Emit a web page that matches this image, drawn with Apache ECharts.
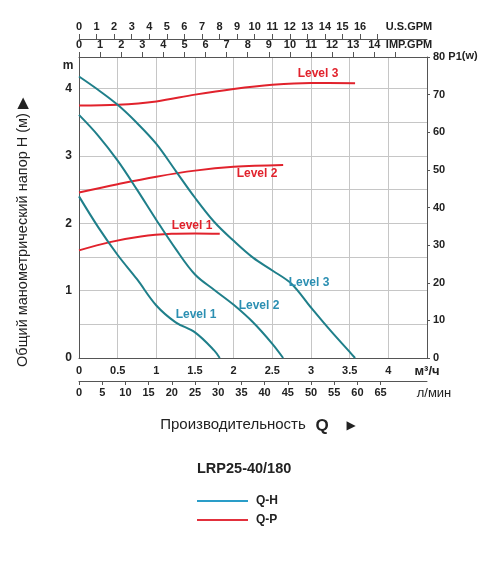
<!DOCTYPE html>
<html>
<head>
<meta charset="utf-8">
<script src="https://cdn.jsdelivr.net/npm/echarts@6/dist/echarts.min.js"></script>
<style>
  html, body { margin: 0; padding: 0; background: #fff; }
  #chart { width: 500px; height: 571px; }
</style>
</head>
<body>
<div id="chart"></div>
<script>
// Q-H curves, flow in m3/h -> head in m
const qh1X = [0, 0.25, 0.5, 0.75, 1.0, 1.25, 1.5, 1.75, 1.82];
const qh1H = [2.40, 1.94, 1.53, 1.17, 0.78, 0.53, 0.38, 0.11, 0];
const qh2X = [0, 0.25, 0.5, 0.75, 1.0, 1.25, 1.5, 1.75, 2.0, 2.25, 2.5, 2.64];
const qh2H = [3.61, 3.30, 2.93, 2.50, 2.05, 1.62, 1.24, 1.01, 0.79, 0.53, 0.21, 0];
const qh3X = [0, 0.25, 0.5, 0.75, 1.0, 1.25, 1.5, 1.75, 2.0, 2.25, 2.5, 2.75, 3.0, 3.25, 3.5, 3.57];
const qh3H = [4.18, 3.98, 3.76, 3.49, 3.18, 2.78, 2.38, 2.02, 1.74, 1.49, 1.30, 1.10, 0.75, 0.41, 0.09, 0];

// Q-P curves, flow in m3/h -> power in W
const qp1X = [0, 0.4, 0.8, 1.2, 1.5, 1.82];
const qp1P = [28.6, 30.8, 32.3, 33.0, 33.1, 33.0];
const qp2X = [0, 0.5, 1.0, 1.5, 2.0, 2.64];
const qp2P = [44.0, 46.2, 48.2, 49.8, 50.8, 51.3];
const qp3X = [0, 0.5, 1.0, 1.5, 2.0, 2.5, 3.0, 3.57];
const qp3P = [67.1, 67.3, 68.2, 70.0, 71.5, 72.6, 73.1, 73.0];

// secondary flow scales
const usGpmTicks = [0, 1, 2, 3, 4, 5, 6, 7, 8, 9, 10, 11, 12, 13, 14, 15, 16, 17];
const usGpmLabels = [0, 1, 2, 3, 4, 5, 6, 7, 8, 9, 10, 11, 12, 13, 14, 15, 16];
const impGpmTicks = [0, 1, 2, 3, 4, 5, 6, 7, 8, 9, 10, 11, 12, 13, 14, 15];
const impGpmLabels = [0, 1, 2, 3, 4, 5, 6, 7, 8, 9, 10, 11, 12, 13, 14];
const lminTicks = [0, 5, 10, 15, 20, 25, 30, 35, 40, 45, 50, 55, 60, 65];

const Q_MAX = 4.5;       // m3/h at right edge
const H_MAX = 4.47;      // m at top edge
const TEAL = '#1f7f8a', RED = '#e1222c', TEAL_TXT = '#2b8fb2';
const FONT = '"Liberation Sans", Arial, sans-serif';
const AX = '#555', GRIDC = '#c6c6c6', TXT = '#222';

const pairs = (xs, ys) => xs.map((x, i) => [x, ys[i]]);
const curve = (name, xs, ys, color, yIdx) => ({
  name, type: 'line', yAxisIndex: yIdx, data: pairs(xs, ys),
  smooth: 0.35, showSymbol: false, symbol: 'none',
  lineStyle: { color, width: 2 }, itemStyle: { color }, z: yIdx ? 3 : 4,
});

const tickLbl = { fontFamily: FONT, fontSize: 11, fontWeight: 'bold', color: TXT };
const line = { onZero: false, lineStyle: { color: AX } };
const txt = (x, y, text, extra) => ({
  type: 'text', x, y, z: 10,
  style: Object.assign({ text, fill: TXT, font: 'bold 12px ' + FONT, textAlign: 'center', textVerticalAlign: 'middle' }, extra || {}),
});

const chart = echarts.init(document.getElementById('chart'), null, { renderer: 'canvas' });
chart.setOption({
  animation: false,
  backgroundColor: '#fff',
  textStyle: { fontFamily: FONT },
  title: { text: 'LRP25-40/180', left: 192, top: 456, textStyle: { fontSize: 14.5, fontWeight: 'bold', color: TXT, fontFamily: FONT } },
  legend: {
    orient: 'vertical', left: 197, top: 495, padding: 0, itemGap: 7, itemWidth: 51, itemHeight: 2, icon: 'rect',
    textStyle: { fontSize: 12, fontWeight: 'bold', color: TXT, fontFamily: FONT, padding: [0, 0, 0, 3] },
    data: [{ name: 'Q-H', itemStyle: { color: '#2a9dc8' } }, { name: 'Q-P', itemStyle: { color: '#e2303c' } }],
  },
  grid: { left: 79, top: 57, width: 348, height: 301 },
  xAxis: [
    { // m3/h
      type: 'value', position: 'bottom', min: 0, max: Q_MAX, interval: 0.5,
      axisLine: line, axisTick: { show: false },
      splitLine: { show: true, lineStyle: { color: GRIDC } },
      axisLabel: Object.assign({}, tickLbl, { margin: 7,
        formatter: (v) => (v >= Q_MAX ? '{u|м³/ч}' : String(v)),
        rich: { u: { fontFamily: FONT, fontSize: 13, color: TXT } } }),
    },
    { // l/min
      type: 'value', position: 'bottom', offset: 23, min: 0, max: Q_MAX * 1000 / 60,
      axisLine: line, splitLine: { show: false },
      axisTick: { length: 4, lineStyle: { color: AX }, customValues: lminTicks },
      axisLabel: Object.assign({}, tickLbl, { margin: 6, customValues: lminTicks }),
    },
    { // IMP.GPM
      type: 'value', position: 'top', offset: 0, min: 0, max: Q_MAX * 3.6662,
      axisLine: line, splitLine: { show: false },
      axisTick: { length: 5, lineStyle: { color: AX }, customValues: impGpmTicks },
      axisLabel: Object.assign({}, tickLbl, { margin: 7, customValues: impGpmLabels }),
    },
    { // U.S.GPM
      type: 'value', position: 'top', offset: 18, min: 0, max: Q_MAX * 4.4029,
      axisLine: line, splitLine: { show: false },
      axisTick: { length: 5, lineStyle: { color: AX }, customValues: usGpmTicks },
      axisLabel: Object.assign({}, tickLbl, { margin: 7, customValues: usGpmLabels }),
    },
  ],
  yAxis: [
    { // head, m
      type: 'value', position: 'left', min: 0, max: H_MAX, interval: 0.5,
      axisLine: Object.assign({ show: true }, line), axisTick: { show: false },
      splitLine: { show: true, lineStyle: { color: GRIDC } },
      axisLabel: Object.assign({}, tickLbl, { fontSize: 12, margin: 7,
        formatter: (v) => (Number.isInteger(v) ? String(v) : '') }),
    },
    { // power, W
      type: 'value', position: 'right', min: 0, max: 80, interval: 10,
      axisLine: Object.assign({ show: true }, line),
      axisTick: { show: true, length: 3, lineStyle: { color: AX } },
      splitLine: { show: false },
      axisLabel: Object.assign({}, tickLbl, { margin: 6,
        formatter: (v) => (v === 80 ? '80 P1{s|(w)}' : String(v)),
        rich: { s: { fontFamily: FONT, fontSize: 11, fontWeight: 'bold', color: TXT, verticalAlign: 'bottom', padding: [0, 0, 3, 0] } } }),
    },
  ],
  series: [
    curve('Q-P', qp1X, qp1P, RED, 1),
    curve('Q-P', qp2X, qp2P, RED, 1),
    curve('Q-P', qp3X, qp3P, RED, 1),
    curve('Q-H', qh1X, qh1H, TEAL, 0),
    curve('Q-H', qh2X, qh2H, TEAL, 0),
    curve('Q-H', qh3X, qh3H, TEAL, 0),
  ],
  graphic: [
    txt(68, 66, 'm'),
    txt(409, 27, 'U.S.GPM', { font: 'bold 11px ' + FONT }),
    txt(409, 45, 'IMP.GPM', { font: 'bold 11px ' + FONT }),
    txt(434, 393, 'л/мин', { font: '13px ' + FONT }),
    txt(318, 74, 'Level 3', { fill: RED }),
    txt(257, 174, 'Level 2', { fill: RED }),
    txt(192, 226, 'Level 1', { fill: RED }),
    txt(309, 283, 'Level 3', { fill: TEAL_TXT }),
    txt(259, 306, 'Level 2', { fill: TEAL_TXT }),
    txt(196, 315, 'Level 1', { fill: TEAL_TXT }),
    { type: 'text', x: 23, y: 232, rotation: Math.PI / 2, z: 10,
      style: { text: 'Общий манометрический напор H (м) ▶', fill: TXT, font: '14.5px ' + FONT, textAlign: 'center', textVerticalAlign: 'middle' } },
    txt(233, 425, 'Производительность', { font: '15px ' + FONT }),
    txt(322, 426, 'Q', { font: 'bold 17px ' + FONT }),
    txt(351, 426, '▶', { font: '12px "DejaVu Sans", sans-serif' }),
  ],
});
</script>
</body>
</html>
